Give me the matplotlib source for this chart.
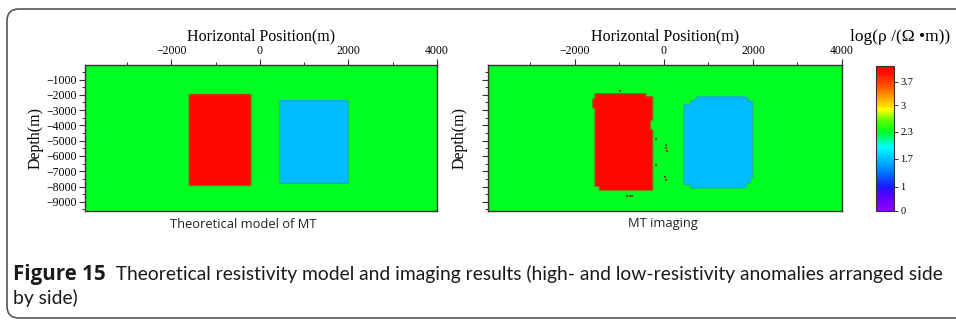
import numpy as np
import matplotlib
matplotlib.use("Agg")
import matplotlib.pyplot as plt
from matplotlib.colors import LinearSegmentedColormap, FuncNorm
from matplotlib.patches import FancyBboxPatch
from matplotlib.path import Path

# model domain (m)
x_range = (-3950, 4000)
z_range = (-9600, -50)
cell = 50

# log10 resistivity of host and anomalies
rho_host = 2.3
rho_high = 4.1
rho_low = 1.7

# theoretical model blocks: (x0, x1, z_top, z_bottom)
high_block = (-1600, -200, -2000, -7950)
low_block = (450, 2000, -2400, -7800)

# inverted bodies, outlines traced as (x, z) vertices
high_outline = [(-1550, -1970), (-380, -1970), (-380, -2150), (-270, -2150),
                (-270, -2600), (-235, -2600), (-235, -3700), (-290, -3700),
                (-290, -4300), (-240, -4300), (-240, -7600), (-260, -7600),
                (-260, -8250), (-1470, -8250), (-1470, -8000), (-1530, -8000),
                (-1530, -2900), (-1600, -2900), (-1600, -2300), (-1550, -2300)]
low_outline = [(750, -2130), (1840, -2130), (1840, -2250), (1910, -2250),
               (1910, -2450), (1990, -2450), (1990, -7400), (1950, -7400),
               (1950, -7800), (1840, -7800), (1840, -8100), (600, -8100),
               (600, -7900), (460, -7900), (460, -2650), (590, -2650),
               (590, -2400), (700, -2400), (700, -2250), (750, -2250)]
# stray cells around the high-resistivity body
stray_x = [-990, 40, 40, 60, 20, 40, -830, -770, -720, -180, -170]
stray_z = [-1780, -5300, -5500, -5700, -7400, -7550, -8600, -8600, -8600, -4900, -6600]

# colour scale
cbar_ticks = [0, 1, 1.7, 2.3, 3, 3.7]
scale_vals = [0, 1, 1.7, 2.3, 3, 3.7, 4.2]
scale_pos = [0, 0.166, 0.359, 0.545, 0.731, 0.890, 1.0]
cmap_stops = [(0.0, "#8f00ff"), (0.10, "#5a00ff"), (0.166, "#1a1aff"),
              (0.26, "#0070ff"), (0.359, "#00bfff"), (0.44, "#00ffff"),
              (0.545, "#00ff22"), (0.63, "#60ff00"), (0.70, "#ffff00"),
              (0.731, "#ffd800"), (0.85, "#ff6000"), (0.95, "#ff1000"),
              (1.0, "#ff0000")]

cmap = LinearSegmentedColormap.from_list("resist", cmap_stops)
norm = FuncNorm((lambda v: np.interp(v, scale_vals, scale_pos),
                 lambda p: np.interp(p, scale_pos, scale_vals)),
                vmin=scale_vals[0], vmax=scale_vals[-1])

xc = np.arange(x_range[0] + cell / 2, x_range[1], cell)
zc = np.arange(z_range[0] + cell / 2, z_range[1], cell)
X, Z = np.meshgrid(xc, zc)
pts = np.column_stack([X.ravel(), Z.ravel()])

model = np.full(X.shape, rho_host)
for blk, val in [(high_block, rho_high), (low_block, rho_low)]:
    x0, x1, zt, zb = blk
    model[(X >= x0) & (X <= x1) & (Z <= zt) & (Z >= zb)] = val

imaging = np.full(X.shape, rho_host)
for outline, val in [(high_outline, rho_high), (low_outline, rho_low)]:
    inside = Path(outline).contains_points(pts).reshape(X.shape)
    imaging[inside] = val

plt.rcParams["font.family"] = ["Liberation Serif", "DejaVu Serif"]
plt.rcParams["axes.unicode_minus"] = True

W, H = 956, 322
fig = plt.figure(figsize=(W / 100, H / 100), dpi=100)

def frac(x0, y0, x1, y1):
    return [x0 / W, 1 - y1 / H, (x1 - x0) / W, (y1 - y0) / H]

ax1 = fig.add_axes(frac(85, 65, 437, 211))
ax2 = fig.add_axes(frac(488, 65, 842, 211))
cax = fig.add_axes(frac(876, 66, 894, 211))

extent = (x_range[0], x_range[1], z_range[0], z_range[1])
for ax, field in [(ax1, model), (ax2, imaging)]:
    im = ax.imshow(field, cmap=cmap, norm=norm, origin="lower", extent=extent,
                   aspect="auto", interpolation="bilinear",
                   interpolation_stage="rgba")
    # thin dull outline where the anomalies meet the host
    ax.contour(X, Z, field, levels=[2.0, 3.2], colors=["#3f8fa0", "#7a6a10"],
               linewidths=0.7, alpha=0.7)
    ax.set_xlim(*x_range)
    ax.set_ylim(*z_range)
    ax.xaxis.tick_top()
    ax.xaxis.set_label_position("top")
    ax.set_xticks([-2000, 0, 2000, 4000])
    ax.set_xticks([-3000, -1000, 1000, 3000], minor=True)
    ax.set_yticks(np.arange(-9000, 0, 1000))
    ax.set_yticks(np.arange(-9500, 0, 1000), minor=True)
    ax.tick_params(which="major", direction="out", length=4, width=0.8,
                   color="#333333", labelsize=8.5, pad=2)
    ax.tick_params(which="minor", direction="out", length=2.5, width=0.7,
                   color="#333333")
    ax.tick_params(axis="y", right=False)
    ax.tick_params(axis="x", bottom=False)
    for s in ax.spines.values():
        s.set_color("#333333")
        s.set_linewidth(1.0)
    ax.set_xlabel("Horizontal Position(m)", fontsize=11.5, labelpad=3)

ax1.set_ylabel("Depth(m)", fontsize=11.5, labelpad=2)
ax2.tick_params(axis="y", labelleft=False)
ax2.set_ylabel("Depth(m)", fontsize=11.5, labelpad=9)

ax2.scatter(stray_x, stray_z, s=1.5, marker="s", color="#5a5a20", linewidths=0)

cb = fig.colorbar(im, cax=cax, ticks=cbar_ticks)
cb.ax.set_yticklabels(["0", "1", "1.7", "2.3", "3", "3.7"])
cb.ax.tick_params(direction="out", length=3, width=0.7, labelsize=7.5,
                  pad=1.5, color="#333333")
cb.outline.set_edgecolor("#333333")
cb.outline.set_linewidth(0.8)
fig.text(950 / W, 1 - 37 / H, "log(ρ /(Ω •m))", ha="right", va="center",
         fontsize=12.5)

sans = ["Open Sans", "DejaVu Sans"]
fig.text(243 / W, 1 - 224 / H, "Theoretical model of MT", ha="center",
         va="center", fontsize=9.3, family=sans, color="#222222")
fig.text(663 / W, 1 - 224 / H, "MT imaging", ha="center", va="center",
         fontsize=9.3, family=sans, color="#222222")

cap = ["Lato", "DejaVu Sans"]
cap_size = 13.9
t1 = fig.text(13 / W, 1 - 280 / H, "Figure 15", ha="left", va="baseline",
              fontsize=14.8, fontweight="bold", family=["Open Sans", "DejaVu Sans"],
              color="#1a1a1a")
fig.canvas.draw()
bb = t1.get_window_extent()
fig.text(bb.x1 / W, 1 - 280 / H, "  Theoretical resistivity model and imaging "
         "results (high- and low-resistivity anomalies arranged side",
         ha="left", va="baseline", fontsize=cap_size, family=cap, color="#1a1a1a")
fig.text(13 / W, 1 - 304 / H, "by side)", ha="left", va="baseline",
         fontsize=cap_size, family=cap, color="#1a1a1a")

frame = FancyBboxPatch((7, 4), 980, 309, boxstyle="round,pad=0,rounding_size=12",
                       transform=None, facecolor="none", edgecolor="#555555",
                       linewidth=1.2)
fig.patches.append(frame)

fig.savefig("out.png", dpi=100)
